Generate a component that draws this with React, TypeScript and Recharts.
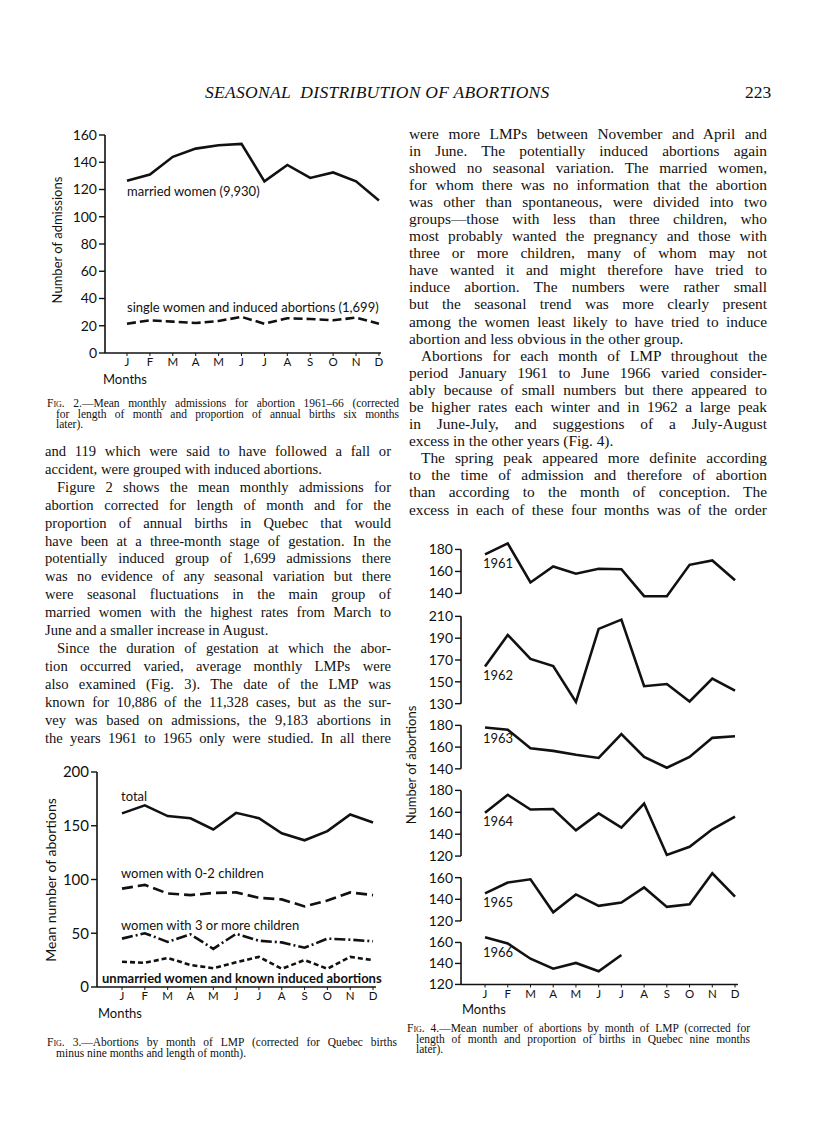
import React from 'react'
import { LineChart, Line, XAxis, YAxis, ReferenceLine } from 'recharts'

const MONTHS = ['J', 'F', 'M', 'A', 'M', 'J', 'J', 'A', 'S', 'O', 'N', 'D']
const MONTH_IDX = MONTHS.map((_, i) => i)

// Fig. 2 — mean monthly admissions 1961-66
const MARRIED = [126.5, 131, 144, 150, 152.5, 153.5, 126, 138, 128.5, 132.5, 126, 112]
const SINGLE = [21.5, 24, 23, 22, 23.5, 26.5, 21.5, 25.5, 25, 24, 26, 21.5]
const FIG2_TICKS = [0, 20, 40, 60, 80, 100, 120, 140, 160]

// Fig. 3 — abortions by month of LMP
const TOTAL = [161.5, 169, 159, 157, 146.5, 162, 157, 143, 136.5, 145, 160.5, 153]
const KIDS_0_2 = [91.5, 95, 87, 85.5, 87.5, 88, 83, 81.5, 75, 80.5, 88, 85.5]
const KIDS_3_PLUS = [45, 50, 42, 49, 35.5, 49.5, 43, 41.5, 36.5, 45, 44, 42.5]
const UNMARRIED = [23.5, 22.5, 27, 20.5, 17.5, 23, 28, 17, 25, 17, 28, 25]
const FIG3_TICKS = [0, 50, 100, 150, 200]

// Fig. 4 — one panel per year
const YEARS = ['1961', '1962', '1963', '1964', '1965', '1966']
const Y1961 = [175.5, 185.5, 150, 164.5, 158, 162.5, 162, 137.5, 137.5, 166, 170, 152]
const Y1962 = [164, 193, 171, 164.5, 131.5, 198.5, 207, 146, 148, 132, 153, 142]
const Y1963 = [178, 176, 159, 156.5, 153, 150, 172, 151, 141, 151, 168.5, 170]
const Y1964 = [159.5, 176, 162.5, 163, 143.5, 159, 146, 168, 121, 128.5, 144.5, 156]
const Y1965 = [145.5, 155.5, 158.5, 128, 144.5, 134, 137, 151, 133, 135.5, 164, 142.5]
const Y1966 = [165, 159, 144.5, 135, 140.5, 132.5, 148]
const YEAR_VALUES = [Y1961, Y1962, Y1963, Y1964, Y1965, Y1966]
const YEAR_TICKS = [
  [140, 160, 180],
  [130, 150, 170, 190, 210],
  [140, 160, 180],
  [120, 140, 160, 180],
  [120, 140, 160],
  [120, 140, 160],
]

const INK = '#111'
const SANS = 'Lato, "Open Sans", sans-serif'
const SERIF = '"Liberation Serif", "Times New Roman", serif'

type Rect = { l: number; t: number; r: number; b: number }
type Series = { values: number[]; dash?: string }

interface PlotProps {
  plot: Rect
  xDomain: [number, number]
  yDomain: [number, number]
  yTicks: number[]
  series: Series[]
  showX?: boolean
  axisSpan?: [number, number]
  tickFont?: number
}

function Plot({ plot, xDomain, yDomain, yTicks, series, showX, axisSpan, tickFont = 14 }: PlotProps) {
  const padL = 50, padT = 14, padR = 8
  const padB = showX ? 24 : 10
  const left = plot.l - padL
  const top = plot.t - padT
  const data = MONTH_IDX.map(i => {
    const row: Record<string, number | undefined> = { i }
    series.forEach((s, k) => { row['s' + k] = s.values[i] })
    return row
  })
  return (
    <div style={{ position: 'absolute', left, top }}>
      <LineChart
        width={plot.r - left + padR}
        height={plot.b - top + padB}
        data={data}
        margin={{ top: padT, right: padR, bottom: showX ? 0 : padB, left: 0 }}
      >
        <XAxis
          type="number" dataKey="i" domain={xDomain} ticks={MONTH_IDX} interval={0}
          tickFormatter={(i: number) => MONTHS[i]} hide={!showX} height={padB}
          axisLine={{ stroke: INK, strokeWidth: 1.6 }} tickLine={{ stroke: INK }}
          tickSize={3} tickMargin={2}
          tick={{ fontSize: 11.5, fill: INK, fontFamily: SANS }}
        />
        <YAxis
          type="number" domain={yDomain} ticks={yTicks} interval={0} width={padL}
          axisLine={axisSpan ? false : { stroke: INK, strokeWidth: 1.6 }}
          tickLine={{ stroke: INK, strokeWidth: 1.4 }} tickSize={6} tickMargin={2}
          tick={{ fontSize: tickFont, fill: INK, fontFamily: SANS }}
        />
        {axisSpan && (
          <ReferenceLine
            segment={[{ x: xDomain[0], y: axisSpan[0] }, { x: xDomain[0], y: axisSpan[1] }]}
            stroke={INK} strokeWidth={1.6} ifOverflow="visible"
          />
        )}
        {series.map((s, k) => (
          <Line
            key={k} dataKey={'s' + k} type="linear" stroke={INK} strokeWidth={2.6}
            strokeDasharray={s.dash} dot={false} activeDot={false} isAnimationActive={false}
          />
        ))}
      </LineChart>
    </div>
  )
}

function Txt({ x, y, size = 13, bold, children }: { x: number; y: number; size?: number; bold?: boolean; children: React.ReactNode }) {
  return (
    <div style={{
      position: 'absolute', left: x, top: y - size * 0.6, fontFamily: SANS, fontSize: size,
      lineHeight: `${size * 1.2}px`, whiteSpace: 'nowrap', color: INK, fontWeight: bold ? 700 : 400,
    }}>{children}</div>
  )
}

function VTxt({ cx, cy, size = 13, children }: { cx: number; cy: number; size?: number; children: React.ReactNode }) {
  return (
    <div style={{
      position: 'absolute', left: cx, top: cy, fontFamily: SANS, fontSize: size, whiteSpace: 'nowrap',
      color: INK, transform: 'translate(-50%, -50%) rotate(-90deg)',
    }}>{children}</div>
  )
}

type TextLine = { t: string; indent?: boolean; end?: boolean }

const LEFT_COL: TextLine[] = [
  { t: 'and 119 which were said to have followed a fall or' },
  { t: 'accident, were grouped with induced abortions.', end: true },
  { t: 'Figure 2 shows the mean monthly admissions for', indent: true },
  { t: 'abortion corrected for length of month and for the' },
  { t: 'proportion of annual births in Quebec that would' },
  { t: 'have been at a three-month stage of gestation. In the' },
  { t: 'potentially induced group of 1,699 admissions there' },
  { t: 'was no evidence of any seasonal variation but there' },
  { t: 'were seasonal fluctuations in the main group of' },
  { t: 'married women with the highest rates from March to' },
  { t: 'June and a smaller increase in August.', end: true },
  { t: 'Since the duration of gestation at which the abor-', indent: true },
  { t: 'tion occurred varied, average monthly LMPs were' },
  { t: 'also examined (Fig. 3). The date of the LMP was' },
  { t: 'known for 10,886 of the 11,328 cases, but as the sur-' },
  { t: 'vey was based on admissions, the 9,183 abortions in' },
  { t: 'the years 1961 to 1965 only were studied. In all there' },
]

const RIGHT_COL: TextLine[] = [
  { t: 'were more LMPs between November and April and' },
  { t: 'in June. The potentially induced abortions again' },
  { t: 'showed no seasonal variation. The married women,' },
  { t: 'for whom there was no information that the abortion' },
  { t: 'was other than spontaneous, were divided into two' },
  { t: 'groups—those with less than three children, who' },
  { t: 'most probably wanted the pregnancy and those with' },
  { t: 'three or more children, many of whom may not' },
  { t: 'have wanted it and might therefore have tried to' },
  { t: 'induce abortion. The numbers were rather small' },
  { t: 'but the seasonal trend was more clearly present' },
  { t: 'among the women least likely to have tried to induce' },
  { t: 'abortion and less obvious in the other group.', end: true },
  { t: 'Abortions for each month of LMP throughout the', indent: true },
  { t: 'period January 1961 to June 1966 varied consider-' },
  { t: 'ably because of small numbers but there appeared to' },
  { t: 'be higher rates each winter and in 1962 a large peak' },
  { t: 'in June-July, and suggestions of a July-August' },
  { t: 'excess in the other years (Fig. 4).', end: true },
  { t: 'The spring peak appeared more definite according', indent: true },
  { t: 'to the time of admission and therefore of abortion' },
  { t: 'than according to the month of conception. The' },
  { t: 'excess in each of these four months was of the order' },
]

function Column({ lines, x, y, w, size, lh }: { lines: TextLine[]; x: number; y: number; w: number; size: number; lh: number }) {
  return (
    <div style={{ position: 'absolute', left: x, top: y, width: w, fontFamily: SERIF, fontSize: size, lineHeight: `${lh}px`, color: INK }}>
      {lines.map((l, i) => (
        <div key={i} style={{
          whiteSpace: 'nowrap', textAlign: 'justify', textAlignLast: l.end ? 'left' : 'justify',
          paddingLeft: l.indent ? 12 : 0,
        }}>{l.t}</div>
      ))}
    </div>
  )
}

function Caption({ x, y, w, num, lines }: { x: number; y: number; w: number; num: string; lines: string[] }) {
  return (
    <div style={{ position: 'absolute', left: x, top: y, width: w, fontFamily: SERIF, fontSize: 11.5, lineHeight: '10.5px', color: INK }}>
      {lines.map((l, i) => (
        <div key={i} style={{
          whiteSpace: 'nowrap', textAlign: 'justify',
          textAlignLast: i === lines.length - 1 || (i > 0 && l.length < 40) ? 'left' : 'justify',
          paddingLeft: i > 0 ? 9 : 0,
        }}>
          {i === 0 && <span style={{ fontVariant: 'small-caps' }}>Fig. {num}.</span>}
          {i === 0 ? '—' : ''}{l}
        </div>
      ))}
    </div>
  )
}

// layout of the six Fig. 4 panels: pixel y of the top and bottom tick
const PANEL_Y = [
  [549.3, 593.3], [616, 703.3], [725, 768.5], [790, 855.7], [877.7, 921], [942, 984],
]
const PANEL_LABEL_Y = [564, 676, 739, 822, 903, 953]

export default function App() {
  return (
    <div style={{ position: 'absolute', left: 0, top: 0, width: 816, height: 1148, background: '#fff', overflow: 'hidden' }}>
      {/* running head */}
      <div style={{ position: 'absolute', left: 205, top: 82, fontFamily: SERIF, fontStyle: 'italic', fontSize: 17.5, color: INK, letterSpacing: 0.3, whiteSpace: 'nowrap' }}>
        SEASONAL&nbsp; DISTRIBUTION OF ABORTIONS
      </div>
      <div style={{ position: 'absolute', left: 745, top: 82, fontFamily: SERIF, fontSize: 17.5, color: INK }}>223</div>

      {/* Fig. 2 */}
      <Plot
        plot={{ l: 105, t: 135, r: 381, b: 353 }} xDomain={[-0.96, 11.09]} yDomain={[0, 160]}
        yTicks={FIG2_TICKS} showX tickFont={14}
        series={[{ values: MARRIED }, { values: SINGLE, dash: '9 4' }]}
      />
      <VTxt cx={57} cy={240}>Number of admissions</VTxt>
      <Txt x={127} y={192}>married women (9,930)</Txt>
      <Txt x={127} y={308}>single women and induced abortions (1,699)</Txt>
      <Txt x={103} y={380}>Months</Txt>
      <Caption x={47} y={398} w={352} num="2" lines={[
        'Mean monthly admissions for abortion 1961–66 (corrected',
        'for length of month and proportion of annual births six months',
        'later).',
      ]} />

      <Column lines={LEFT_COL} x={45} y={443} w={346} size={14.6} lh={17.9} />
      <Column lines={RIGHT_COL} x={409} y={124.5} w={358} size={15.4} lh={17.1} />

      {/* Fig. 3 */}
      <Plot
        plot={{ l: 97, t: 772, r: 376, b: 987 }} xDomain={[-1.096, 11.13]} yDomain={[0, 200]}
        yTicks={FIG3_TICKS} showX tickFont={15}
        series={[
          { values: TOTAL },
          { values: KIDS_0_2, dash: '11 5' },
          { values: KIDS_3_PLUS, dash: '11 3 2 3' },
          { values: UNMARRIED, dash: '5 3' },
        ]}
      />
      <VTxt cx={50} cy={880} size={14}>Mean number of abortions</VTxt>
      <Txt x={121} y={797}>total</Txt>
      <Txt x={121} y={874}>women with 0-2 children</Txt>
      <Txt x={121} y={926}>women with 3 or more children</Txt>
      <Txt x={102} y={979} bold>unmarried women and known induced abortions</Txt>
      <Txt x={98} y={1014}>Months</Txt>
      <Caption x={47} y={1037} w={350} num="3" lines={[
        'Abortions by month of LMP (corrected for Quebec births',
        'minus nine months and length of month).',
      ]} />

      {/* Fig. 4 */}
      {YEAR_VALUES.map((vals, k) => {
        const ticks = YEAR_TICKS[k]
        const tLo = ticks[0], tHi = ticks[ticks.length - 1]
        const [yHi, yLo] = PANEL_Y[k]
        const s = (yLo - yHi) / (tHi - tLo)
        const last = k === YEAR_VALUES.length - 1
        const dHi = Math.max(tHi, ...vals) + 4
        const dLo = last ? tLo : Math.min(tLo, ...vals) - 4
        const plot = { l: 461, r: 738, t: yHi - (dHi - tHi) * s, b: yLo + (tLo - dLo) * s }
        return (
          <Plot
            key={YEARS[k]} plot={plot} xDomain={[-1.056, 11.13]} yDomain={[dLo, dHi]}
            yTicks={ticks} showX={last} axisSpan={[tLo, tHi]} tickFont={14}
            series={[{ values: vals }]}
          />
        )
      })}
      {YEARS.map((y, k) => <Txt key={y} x={483} y={PANEL_LABEL_Y[k]}>{y}</Txt>)}
      <VTxt cx={411} cy={765}>Number of abortions</VTxt>
      <Txt x={462} y={1010}>Months</Txt>
      <Caption x={407} y={1023} w={343} num="4" lines={[
        'Mean number of abortions by month of LMP (corrected for',
        'length of month and proportion of births in Quebec nine months',
        'later).',
      ]} />
    </div>
  )
}
